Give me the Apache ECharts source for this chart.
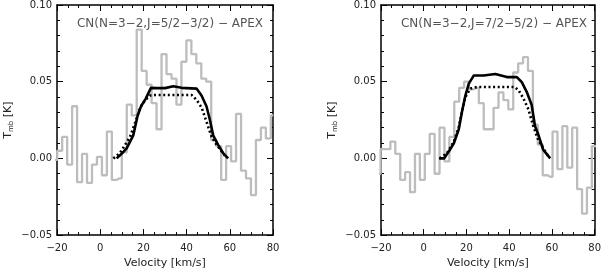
<!DOCTYPE html>
<html><head><meta charset="utf-8">
<script src="https://cdn.jsdelivr.net/npm/echarts@6/dist/echarts.min.js"></script>
<style>html,body{margin:0;padding:0;background:#fff}#c{width:604px;height:274px}</style>
</head><body><div id="c"></div>
<script>
// ---- tick / text data ----
const xTicks = [-20, 0, 20, 40, 60, 80];
const yTicks = [-0.05, 0.00, 0.05, 0.10];
const titleLeft = 'CN(N=3\u22122,J=5/2\u22123/2) \u2212 APEX';
const titleRight = 'CN(N=3\u22122,J=7/2\u22125/2) \u2212 APEX';
const xName = 'Velocity [km/s]';

// ---- left panel: observed spectrum (channel centres, km/s ; Tmb, K) ----
const chanLeft = [-21.05,-18.75,-16.45,-14.15,-11.85,-9.55,-7.25,-4.95,-2.65,-0.35,1.95,4.25,6.55,8.85,11.15,13.45,15.75,18.05,20.35,22.65,24.95,27.25,29.55,31.85,34.15,36.45,38.75,41.05,43.35,45.65,47.95,50.25,52.55,54.85,57.15,59.45,61.75,64.05,66.35,68.65,70.95,73.25,75.55,77.85,80.15];
const tmbLeft  = [-0.001,0.005,0.014,-0.004,0.034,-0.0155,0.003,-0.016,-0.004,0.001,-0.011,0.0175,-0.014,-0.013,0.004,0.035,0.028,0.084,0.057,0.048,0.036,0.019,0.068,0.055,0.052,0.035,0.063,0.077,0.068,0.062,0.052,0.050,0.012,0.008,-0.014,0.008,-0.002,0.029,-0.008,-0.013,-0.024,0.012,0.020,0.013,0.028];
// left panel models
const modelSolidVelLeft = [7.6,9.9,12.3,15.3,17.3,18.9,21.1,23.5,26.2,30,33.8,37.7,44.6,46.9,49.2,50.8,52.3,54.6,56.9,59.2];
const modelSolidLeft    = [0,0.003,0.0067,0.015,0.0277,0.034,0.039,0.046,0.0458,0.0458,0.047,0.046,0.0455,0.041,0.034,0.025,0.015,0.0088,0.0035,0];
const modelDotVelLeft   = [6.1,9.2,11.5,13.8,16.2,18.5,20.8,23.1,25.4,42.4,44.7,47,49.3,51.6,53.9,56.2,58.5];
const modelDotLeft      = [0,0.0036,0.0088,0.014,0.0235,0.033,0.038,0.041,0.0413,0.0413,0.038,0.033,0.0235,0.014,0.0088,0.0046,0.0004];

// ---- right panel: observed spectrum ----
const chanRight = [-21.35,-19.05,-16.75,-14.45,-12.15,-9.85,-7.55,-5.25,-2.95,-0.65,1.65,3.95,6.25,8.55,10.85,13.15,15.45,17.75,20.05,22.35,24.65,26.95,29.25,31.55,33.85,36.15,38.45,40.75,43.05,45.35,47.65,49.95,52.25,54.55,56.85,59.15,61.45,63.75,66.05,68.35,70.65,72.95,75.25,77.55,79.85,82.15];
const tmbRight  = [-0.010,0.006,0.006,0.011,0.003,-0.014,-0.009,-0.022,0.003,-0.014,0.003,0.016,-0.010,0.020,-0.002,0.014,0.037,0.046,0.050,0.045,0.046,0.036,0.019,0.019,0.033,0.043,0.038,0.032,0.056,0.062,0.066,0.057,0.022,0.009,-0.011,-0.012,0.0175,-0.007,0.021,-0.006,0.020,-0.020,-0.036,-0.019,0.008,0.008];
// right panel models
const modelSolidVelRight = [7.2,9.5,11.8,14.1,16.4,18,19.5,21.1,23.4,28.1,33.5,38.9,43.6,45.9,48.2,50.5,52.1,53.6,55.9,59.2];
const modelSolidRight    = [0,0,0.0046,0.0099,0.019,0.031,0.041,0.0487,0.054,0.054,0.055,0.053,0.053,0.0497,0.0434,0.035,0.021,0.0157,0.0057,0];
const modelDotVelRight   = [7.5,11,14.1,16.4,18,19.5,21.8,24.9,42.6,44.4,46.7,49,51.3,53.6,55.9,58.2];
const modelDotRight      = [0,0.0036,0.011,0.0203,0.031,0.040,0.0455,0.0465,0.0465,0.0445,0.039,0.032,0.021,0.012,0.0067,0.0015];

const zip = (a, b) => a.map((v, i) => [v, b[i]]);
const FONT = 'DejaVu Sans';
const minus = s => s.replace('-', '\u2212');

function xAxes(gi) {
  const common = {
    type: 'value', gridIndex: gi, min: xTicks[0], max: xTicks[xTicks.length - 1], interval: 20,
    axisLine: { show: true, onZero: false, lineStyle: { color: '#000', width: 1.5 } },
    axisTick: { show: true, inside: true, length: 6, lineStyle: { color: '#000', width: 1 } },
    minorTick: { show: true, splitNumber: 4, length: 3, lineStyle: { color: '#000', width: 1 } },
    splitLine: { show: false }
  };
  return [
    Object.assign({}, common, {
      position: 'bottom',
      axisLabel: { show: true, margin: 8, fontFamily: FONT, fontSize: 10, color: '#222',
        formatter: v => minus(String(v)) },
      name: xName, nameLocation: 'middle', nameGap: 22,
      nameTextStyle: { fontFamily: FONT, fontSize: 11, color: '#222' }
    }),
    Object.assign({}, common, { position: 'top', axisLabel: { show: false } })
  ];
}
function yAxes(gi) {
  const common = {
    type: 'value', gridIndex: gi, min: yTicks[0], max: yTicks[yTicks.length - 1], interval: 0.05,
    axisLine: { show: true, onZero: false, lineStyle: { color: '#000', width: 1.5 } },
    axisTick: { show: true, inside: true, length: 6, lineStyle: { color: '#000', width: 1 } },
    minorTick: { show: true, splitNumber: 5, length: 3, lineStyle: { color: '#000', width: 1 } },
    splitLine: { show: false }
  };
  return [
    Object.assign({}, common, {
      position: 'left',
      axisLabel: { show: true, margin: 5, fontFamily: FONT, fontSize: 10, color: '#222',
        formatter: v => minus(v.toFixed(2)) },
      name: '{t|T}{s|mb}{t| [K]}', nameLocation: 'middle', nameGap: 42,
      nameTextStyle: { fontFamily: FONT, color: '#222',
        rich: { t: { fontFamily: FONT, fontSize: 11, color: '#222', lineHeight: 14, verticalAlign: 'middle' },
                s: { fontFamily: FONT, fontSize: 7, color: '#222', lineHeight: 14, verticalAlign: 'bottom', padding: [4, 0, 0, 0] } } }
    }),
    Object.assign({}, common, { position: 'right', axisLabel: { show: false } })
  ];
}

const grayStyle = { color: '#bdbdbd', width: 2.3 };
function panelSeries(gi, chan, tmb, sv, s, dv, d) {
  const xi = gi * 2, yi = gi * 2;
  return [
    { type: 'line', xAxisIndex: xi, yAxisIndex: yi, step: 'middle', data: zip(chan, tmb),
      showSymbol: false, lineStyle: grayStyle, clip: true, z: 2 },
    { type: 'line', xAxisIndex: xi, yAxisIndex: yi, data: zip(dv, d), showSymbol: false,
      lineStyle: { color: '#000', width: 2.6, type: [2, 2.6], cap: 'butt' }, clip: true, z: 3 },
    { type: 'line', xAxisIndex: xi, yAxisIndex: yi, data: zip(sv, s), showSymbol: false,
      lineStyle: { color: '#000', width: 2.6, join: 'round' }, clip: true, z: 4 }
  ];
}

const chart = echarts.init(document.getElementById('c'), null, { renderer: 'canvas' });
chart.setOption({
  animation: false,
  backgroundColor: '#fff',
  title: [
    { text: titleLeft, right: 341, top: 18, padding: 0,
      textStyle: { fontFamily: FONT, fontSize: 12, fontWeight: 'normal', color: '#555' } },
    { text: titleRight, right: 17, top: 18, padding: 0,
      textStyle: { fontFamily: FONT, fontSize: 12, fontWeight: 'normal', color: '#555' } }
  ],
  grid: [
    { left: 57, top: 1, width: 216, height: 239 },
    { left: 381, top: 1, width: 216, height: 239 }
  ],
  xAxis: [].concat(xAxes(0), xAxes(1)),
  yAxis: [].concat(yAxes(0), yAxes(1)),
  series: [].concat(
    panelSeries(0, chanLeft, tmbLeft, modelSolidVelLeft, modelSolidLeft, modelDotVelLeft, modelDotLeft),
    panelSeries(1, chanRight, tmbRight, modelSolidVelRight, modelSolidRight, modelDotVelRight, modelDotRight)
  )
});
</script>
</body></html>
